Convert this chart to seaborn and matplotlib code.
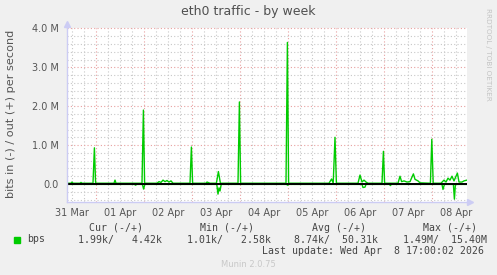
import matplotlib
matplotlib.use("Agg")
import matplotlib.pyplot as plt
import seaborn as sns
import numpy as np
import pandas as pd

# ---- data (hours since 31 Mar 00:00, values in M bits/s) ----
out_hours = [9.5, 11.5, 12, 12.5, 16, 16.5, 17,
             22.5, 23.2, 23.8,
             33, 33.5, 34,
             47, 47.7, 48.3,
             54.5, 55.5, 56.5, 57.5, 58.5, 59.5, 60.5, 61.5, 62.5,
             71, 71.7, 72.3,
             79, 79.5, 80.5, 81,
             84.2, 85.2, 86.2,
             95, 95.7, 96.3,
             119, 119.7, 120.3,
             140.5, 141.8, 142.6, 143.5, 144.2,
             155, 156, 157, 158, 159, 160,
             167, 167.7, 168.3,
             175, 176, 176.8, 178, 179.5, 181, 182.7, 183.5, 185, 186,
             191.2, 191.9, 192.6,
             196.5, 198, 199, 200, 201, 202, 203, 204.7, 205.5, 207, 208, 209.5, 210]
out_vals = [0.02, 0.02, 0.05, 0.02, 0.02, 0.04, 0.02,
            0.02, 0.93, 0.02,
            0.02, 0.10, 0.02,
            0.02, 1.90, 0.02,
            0.02, 0.06, 0.04, 0.10, 0.06, 0.09, 0.05, 0.08, 0.02,
            0.02, 0.95, 0.02,
            0.02, 0.05, 0.03, 0.02,
            0.02, 0.32, 0.02,
            0.02, 2.11, 0.02,
            0.02, 3.64, 0.02,
            0.02, 0.13, 0.02, 1.20, 0.02,
            0.02, 0.23, 0.05, 0.10, 0.05, 0.02,
            0.02, 0.84, 0.02,
            0.02, 0.20, 0.06, 0.08, 0.05, 0.06, 0.26, 0.12, 0.08, 0.03,
            0.02, 1.15, 0.02,
            0.02, 0.10, 0.05, 0.15, 0.10, 0.20, 0.08, 0.28, 0.05, 0.05, 0.08, 0.10, 0.10]

in_hours = [9.5, 43.2, 43.8, 44.4, 47.2, 47.8, 48.4, 84.4, 85.0, 85.5, 86.0, 86.6,
            119.2, 119.8, 120.4, 157.0, 157.5, 158.5, 159.0, 170.7, 171.2, 171.7,
            197.0, 197.5, 198.2, 202.7, 203.2, 203.7, 210]
in_vals = [-0.01, -0.01, -0.03, -0.01, -0.01, -0.13, -0.01, -0.01, -0.26, -0.10, -0.18, -0.01,
           -0.01, -0.03, -0.01, -0.01, -0.09, -0.08, -0.01, -0.01, -0.04, -0.01,
           -0.01, -0.14, -0.01, -0.01, -0.39, -0.01, -0.01]

day_labels = ["31 Mar", "01 Apr", "02 Apr", "03 Apr", "04 Apr",
              "05 Apr", "06 Apr", "07 Apr", "08 Apr"]
y_ticks = [0, 1, 2, 3, 4]
y_tick_labels = ["0.0", "1.0 M", "2.0 M", "3.0 M", "4.0 M"]

legend_headers = ["Cur (-/+)", "Min (-/+)", "Avg (-/+)", "Max (-/+)"]
legend_values = ["1.99k/   4.42k", "1.01k/   2.58k", "8.74k/  50.31k", "1.49M/  15.40M"]

# ---- figure ----
W, H = 497, 275
sns.set_style("white")
plt.rcParams['font.family'] = ['DejaVu Sans']
fig = plt.figure(figsize=(W / 100, H / 100), dpi=100)
fig.patch.set_facecolor('#f0f0f0')

L, R, T, B = 67, 467, 28, 202
ax = fig.add_axes([L / W, 1 - B / H, (R - L) / W, (B - T) / H])
ax.set_facecolor('white')
px_per_m = 38.9
y0 = 184
ax.set_xlim(9.5, 209.5)
ax.set_ylim((y0 - B) / px_per_m, (y0 - T) / px_per_m)

green = '#00cc00'
df_out = pd.DataFrame({"h": out_hours, "v": out_vals})
df_in = pd.DataFrame({"h": in_hours, "v": in_vals})

# grid
ax.set_xticks(np.arange(24, 210, 24))
ax.set_xticks(np.arange(12, 210, 6), minor=True)
ax.set_yticks(y_ticks)
ax.set_yticks(np.arange(-0.4, 4.01, 0.2), minor=True)
ax.grid(which='major', color='#e8a0a0', linestyle=(0, (1, 2)), linewidth=0.8, zorder=0)
ax.grid(which='minor', color='#c8c8c8', linestyle=(0, (1, 2)), linewidth=0.8, zorder=0)
ax.set_axisbelow(True)
ax.tick_params(which='both', length=0)
ax.set_xticklabels([])
ax.set_yticklabels(y_tick_labels, fontsize=7, color='#555555')
ax.tick_params(axis='y', pad=6)
for gl in ax.get_ygridlines():
    gl.set_clip_on(False)

sec = ax.secondary_xaxis('bottom')
sec.set_xticks(np.arange(12, 210, 24)[:len(day_labels)])
sec.set_xticklabels(day_labels, fontsize=7, color='#555555')
sec.tick_params(length=0, pad=4)
sec.spines['bottom'].set_visible(False)

sns.lineplot(data=df_out, x="h", y="v", ax=ax, color=green, linewidth=1.0,
             estimator=None, sort=False, zorder=3)
sns.lineplot(data=df_in, x="h", y="v", ax=ax, color=green, linewidth=1.0,
             estimator=None, sort=False, zorder=3)
ax.axhline(0, color='black', linewidth=1.4, zorder=4)
ax.set_xlabel("")
ax.set_ylabel("")
fig.text(11 / W, 1 - 114 / H, "bits in (-) / out (+) per second", fontsize=8.1,
         color='#555555', rotation=90, ha='center', va='center')

for s in ['top', 'right']:
    ax.spines[s].set_visible(False)
for s in ['left', 'bottom']:
    ax.spines[s].set_color('#ccccf4')
    ax.spines[s].set_linewidth(1.0)
    ax.spines[s].set_zorder(5)
ax.plot([1.0 + 3 / (R - L)], [0], marker='>', color='#ccccf4', markersize=5,
        transform=ax.transAxes, clip_on=False, zorder=5)
ax.plot([0], [1.0 + 4 / (B - T)], marker='^', color='#ccccf4', markersize=5,
        transform=ax.transAxes, clip_on=False, zorder=5)
ax.plot([0, 0], [1.0, 1.0 + 4 / (B - T)], color='#ccccf4', lw=1.0,
        transform=ax.transAxes, clip_on=False, zorder=5)
ax.plot([1.0, 1.0 + 3 / (R - L)], [0, 0], color='#ccccf4', lw=1.0,
        transform=ax.transAxes, clip_on=False, zorder=5)

def ft(x, y, s, **kw):
    fig.text(x / W, 1 - y / H, s, **kw)

ft(248.5, 12, "eth0 traffic - by week", fontsize=9, color='#505050', ha='center', va='center')
ft(488, 54, "RRDTOOL / TOBI OETIKER", fontsize=5.2, color='#c4c4c4', ha='center', va='center',
   rotation=270)

mono = dict(family='DejaVu Sans Mono', fontsize=7.1, color='#444444', va='center', ha='left')
hdr_x = [89.3, 200.3, 311.7, 423]
val_x = [78.3, 187, 294.3, 403.3]
for x, s in zip(hdr_x, legend_headers):
    ft(x, 228, s, **mono)
for x, s in zip(val_x, legend_values):
    ft(x, 239.5, s, **mono)
ft(26.7, 239.5, "bps", **mono)
fig.patches.append(matplotlib.patches.Rectangle((14 / W, 1 - 242.5 / H), 5.5 / W, 5.5 / H,
                                                transform=fig.transFigure, color=green))
ft(261.7, 251, "Last update: Wed Apr  8 17:00:02 2026", **mono)
ft(248, 264.5, "Munin 2.0.75", fontsize=6, color='#c8c8c8', ha='center', va='center')

fig.savefig("out.png", dpi=100, facecolor=fig.get_facecolor())
